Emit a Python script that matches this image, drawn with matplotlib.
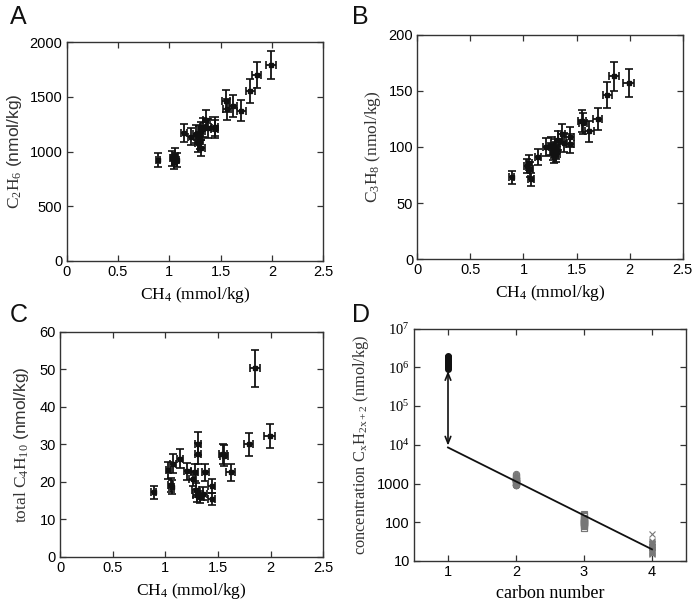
import numpy as np
import matplotlib
matplotlib.use("Agg")
import matplotlib.pyplot as plt
from matplotlib.ticker import FixedLocator, FixedFormatter

plt.rcParams['mathtext.fontset'] = 'custom'
plt.rcParams['mathtext.rm'] = 'Liberation Serif'
plt.rcParams['mathtext.it'] = 'Liberation Serif:italic'
plt.rcParams['mathtext.sf'] = 'Liberation Sans'
plt.rcParams['font.family'] = ['Liberation Sans', 'DejaVu Sans']

# ---- data ----
ch4 = [0.89, 1.03, 1.05, 1.06, 1.07, 1.14, 1.21, 1.26, 1.28, 1.29, 1.30, 1.31,
       1.31, 1.33, 1.36, 1.38, 1.44, 1.44, 1.55, 1.56, 1.62, 1.70, 1.79, 1.85, 1.99]
c2h6 = [924, 939, 909, 963, 920, 1168, 1137, 1159, 1076, 1150, 1100, 1030,
        1190, 1223, 1290, 1213, 1229, 1205, 1463, 1387, 1418, 1372, 1558, 1701, 1793]
c3h8 = [73, 83, 86, 80, 71, 91, 100, 101, 96, 93, 99, 94,
        97, 106, 112, 104, 109, 103, 123, 121, 114, 125, 146.5, 163, 157]
c4h10 = [17.3, 23.1, 19.1, 18.6, 24.9, 26.2, 22.8, 20.9, 22.6, 17.8, 16.4, 30.2,
         27.5, 16.0, 16.9, 22.6, 18.8, 15.5, 27.4, 27.0, 22.6, np.nan, 30.0, 50.2, 32.3]
ch4_rel_err = 0.025
c2_rel_err = 0.07
c3_rel_err = 0.08
c4_rel_err = 0.10

carbon_numbers = [1, 2, 3, 4]
fit_carbon = [1, 4]
fit_conc = [8500, 20]
arrow_low, arrow_high = 9500, 8.0e5

ch4_ticks = [0, 0.5, 1, 1.5, 2, 2.5]
ch4_ticklabels = ['0', '0.5', '1', '1.5', '2', '2.5']
a_ticks = [0, 500, 1000, 1500, 2000]
b_ticks = [0, 50, 100, 150, 200]
c_ticks = [0, 10, 20, 30, 40, 50, 60]
d_yticks = [10, 100, 1000, 1e4, 1e5, 1e6, 1e7]
d_yticklabels = ['10', '100', '1000', '$10^4$', '$10^5$', '$10^6$', '$10^7$']

ch4_a = np.array(ch4)
W, H = 696, 610
fig = plt.figure(figsize=(W / 100, H / 100), dpi=100)


def box(l, r, t, b):
    return [l / W, (H - b) / H, (r - l) / W, (b - t) / H]


axA = fig.add_axes(box(66.7, 323.3, 42.3, 261))
axB = fig.add_axes(box(417.3, 682.7, 35, 259))
axC = fig.add_axes(box(60, 323.3, 331.7, 557))
axD = fig.add_axes(box(414, 686, 328.5, 561))

spine_col = '#333333'
tick_font = 10.5
label_col = '#333333'


def style(ax):
    for s in ax.spines.values():
        s.set_color(spine_col)
        s.set_linewidth(1.0)
    ax.tick_params(direction='in', top=True, right=True, length=4, width=0.9,
                   color=spine_col, labelsize=tick_font, pad=3)
    ax.tick_params(which='minor', length=0)


def scatter_panel(ax, yvals, rel, yticks, ylim):
    y = np.array(yvals, dtype=float)
    ax.errorbar(ch4_a, y, xerr=ch4_a * ch4_rel_err, yerr=y * rel, fmt='s',
                ms=3.2, color='#111111', ecolor='#111111', elinewidth=1.3,
                capsize=2.6, capthick=1.2, mfc='#111111', mec='#111111')
    ax.set_xlim(0, 2.5)
    ax.set_ylim(*ylim)
    ax.set_xticks(ch4_ticks)
    ax.set_xticklabels(ch4_ticklabels)
    ax.set_yticks(yticks)
    style(ax)
    ax.set_xlabel(r'$\mathrm{CH_4}$ (mmol/kg)', family='Liberation Serif',
                  fontsize=12.5, labelpad=4)


scatter_panel(axA, c2h6, c2_rel_err, a_ticks, (0, 2000))
axA.set_ylabel(r'$\mathrm{C_2H_6}$ (nmol/kg)', family='Liberation Sans',
               fontsize=12.5, labelpad=4, color=label_col)

scatter_panel(axB, c3h8, c3_rel_err, b_ticks, (0, 200))
axB.set_ylabel(r'$\mathrm{C_3H_8}$ (nmol/kg)', family='Liberation Serif',
               fontsize=12.5, labelpad=4, color=label_col)

scatter_panel(axC, c4h10, c4_rel_err, c_ticks, (0, 60))
axC.set_ylabel(r'$\mathrm{total\ C_4H_{10}}$ (nmol/kg)', family='Liberation Sans',
               fontsize=12.5, labelpad=6, color=label_col)

# ---- Panel D ----
axD.set_yscale('log')
c1_nmol = ch4_a * 1e6
axD.plot(np.full(len(ch4), carbon_numbers[0]), c1_nmol, 'o', ms=4,
         mfc='#111111', mec='#111111', zorder=3)
axD.plot(np.full(len(c2h6), carbon_numbers[1]), c2h6, 'o', ms=4.5,
         mfc='none', mec='#777777', mew=0.8, zorder=3)
axD.plot(np.full(len(c3h8), carbon_numbers[2]), c3h8, 's', ms=4,
         mfc='none', mec='#777777', mew=0.8, zorder=3)
axD.plot(np.full(len(c4h10), carbon_numbers[3]), c4h10, 'x', ms=4.5,
         mec='#777777', mew=0.8, zorder=3)
axD.plot(fit_carbon, fit_conc, '-', color='#111111', lw=1.3, zorder=4)
axD.annotate('', xy=(carbon_numbers[0], arrow_high), xytext=(carbon_numbers[0], arrow_low),
             arrowprops=dict(arrowstyle='<->,head_length=0.5,head_width=0.2',
                             color='#111111', lw=1.2, shrinkA=0, shrinkB=0))
axD.set_xlim(0.5, 4.5)
axD.set_ylim(10, 1e7)
axD.set_xticks(carbon_numbers)
axD.yaxis.set_major_locator(FixedLocator(d_yticks))
axD.yaxis.set_major_formatter(FixedFormatter(d_yticklabels))
axD.yaxis.set_minor_locator(FixedLocator([]))
style(axD)
axD.set_xlabel('carbon number', family='Liberation Serif', fontsize=13, labelpad=4)
axD.set_ylabel(r'concentration $\mathrm{C_xH_{2x+2}}$ (nmol/kg)',
               family='Liberation Serif', fontsize=11.8, labelpad=4, color=label_col)

# panel letters
for lbl, (x, y) in zip(['A', 'B', 'C', 'D'], [(10, 24), (352, 24), (10, 322), (352, 322)]):
    fig.text(x / W, 1 - y / H, lbl, fontsize=18, family='Liberation Sans', color='#111111')

fig.savefig('out.png', dpi=100)
